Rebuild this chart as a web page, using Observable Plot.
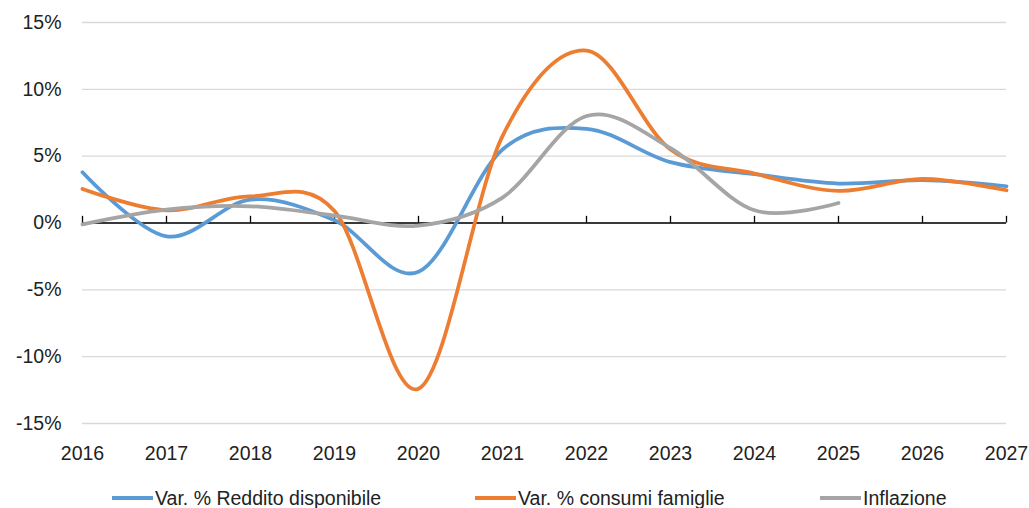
<!DOCTYPE html>
<html>
<head>
<meta charset="utf-8">
<script src="https://cdn.jsdelivr.net/npm/d3@7"></script>
<script src="https://cdn.jsdelivr.net/npm/@observablehq/plot@0.6"></script>
<style>
  body { margin: 0; background: #fff; font-family: "Liberation Sans", Arial, sans-serif; }
  #legend { position: relative; width: 1029px; height: 33px; font-size: 19.5px; color: #222; }
  .item { position: absolute; top: 8px; height: 30px; display: flex; align-items: center; white-space: nowrap; }
  .sw { width: 41px; height: 4px; margin-right: 2px; }
</style>
</head>
<body>
<div id="chart"></div>
<div id="legend"></div>
<script>
const years = [2016, 2017, 2018, 2019, 2020, 2021, 2022, 2023, 2024, 2025, 2026, 2027];
const reddito = [3.8, -1.0, 1.75, 0.2, -3.65, 5.5, 7.05, 4.55, 3.65, 2.95, 3.2, 2.75];
const consumi = [2.55, 0.95, 2.0, 0.9, -12.4, 6.5, 12.9, 5.5, 3.7, 2.4, 3.3, 2.45];
const inflazione = [-0.1, 1.0, 1.25, 0.55, -0.2, 1.9, 8.0, 5.6, 0.95, 1.5];
const seriesNames = ["Var. % Reddito disponibile", "Var. % consumi famiglie", "Inflazione"];
const seriesColors = ["#5B9BD5", "#ED7D31", "#A5A5A5"];
const yTicks = [-15, -10, -5, 0, 5, 10, 15];

const seriesValues = [reddito, consumi, inflazione];
const table = [];
seriesValues.forEach((vals, i) => {
  vals.forEach((v, j) => table.push({ year: years[j], value: v, series: seriesNames[i] }));
});

const chart = Plot.plot({
  width: 1029,
  height: 475,
  marginLeft: 82,
  marginRight: 23,
  marginTop: 22,
  marginBottom: 52,
  x: { domain: [2016, 2027] },
  y: { domain: [-15, 15] },
  color: { domain: seriesNames, range: seriesColors },
  style: {
    fontFamily: '"Liberation Sans", Arial, sans-serif',
    fontSize: "19.5px",
    color: "#222",
    background: "#fff",
    overflow: "visible"
  },
  marks: [
    Plot.gridY(yTicks, { stroke: "#d9d9d9", strokeOpacity: 1, strokeWidth: 1.3 }),
    Plot.axisY(yTicks, { tickSize: 0, tickPadding: 21, tickFormat: d => d + "%", label: null }),
    Plot.axisX(years, { tickSize: 0, tickPadding: 23, tickFormat: d => String(d), label: null }),
    Plot.ruleY([0], { stroke: "#000", strokeWidth: 1.5 }),
    Plot.ruleX(years, { x: d => d, y1: 0, y2: 0.5, stroke: "#000", strokeWidth: 1.3 }),
    Plot.line(table, { x: "year", y: "value", z: "series", stroke: "series", strokeWidth: 3.75, curve: "cardinal" })
  ]
});
document.getElementById("chart").appendChild(chart);

const legend = document.getElementById("legend");
const legendLeft = [112, 475, 820];
seriesNames.forEach((name, i) => {
  const item = document.createElement("div");
  item.className = "item";
  item.style.left = legendLeft[i] + "px";
  const sw = document.createElement("span");
  sw.className = "sw";
  sw.style.background = seriesColors[i];
  const t = document.createElement("span");
  t.textContent = name;
  item.appendChild(sw);
  item.appendChild(t);
  legend.appendChild(item);
});
</script>
</body>
</html>
